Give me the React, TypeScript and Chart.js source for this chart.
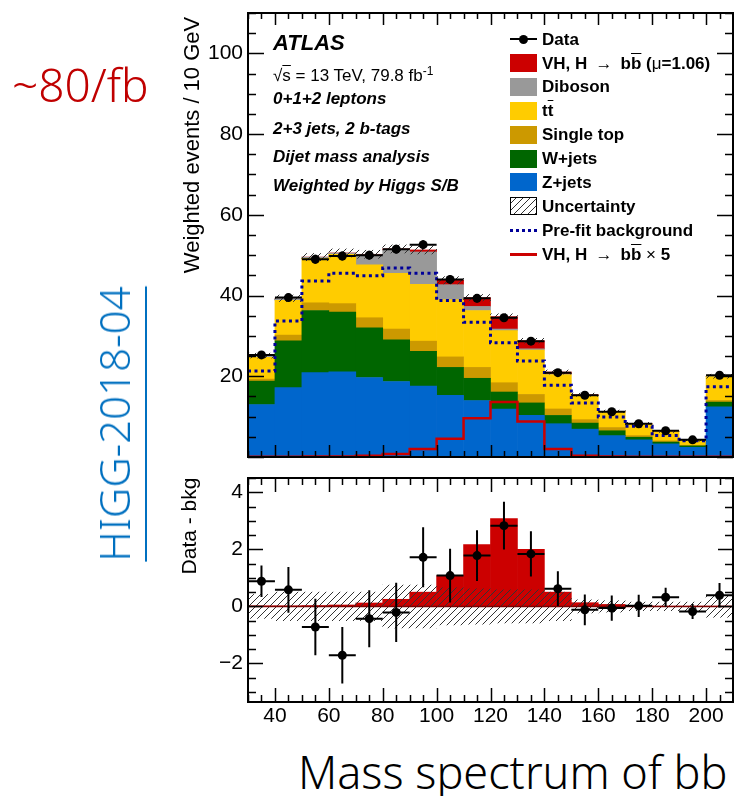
import React, { useEffect, useRef } from "react";
import { Chart, registerables } from "chart.js";
Chart.register(...registerables);

// ---------------- data ----------------
const binEdges = [30, 40, 50, 60, 70, 80, 90, 100, 110, 120, 130, 140, 150, 160, 170, 180, 190, 200, 210];
const binCenters = [35, 45, 55, 65, 75, 85, 95, 105, 115, 125, 135, 145, 155, 165, 175, 185, 195, 205];
const binHalfWidth = 5;

const zJets = [13.0, 17.2, 20.9, 21.1, 19.7, 18.7, 17.6, 15.3, 14.0, 11.9, 10.3, 8.25, 6.9, 5.3, 4.25, 3.25, 2.4, 12.4];
const wJets = [5.8, 11.6, 15.4, 14.8, 12.3, 10.3, 8.6, 6.9, 5.5, 4.2, 3.1, 2.05, 1.5, 1.2, 0.65, 0.45, 0.35, 1.2];
const singleTop = [0.5, 1.4, 1.9, 2.1, 2.5, 2.7, 2.5, 2.6, 2.7, 2.3, 2.1, 1.6, 0.85, 0.8, 0.4, 0.3, 0.15, 0.4];
const ttbar = [5.4, 8.6, 11.0, 12.2, 13.1, 13.8, 14.1, 14.2, 14.1, 12.9, 11.0, 8.5, 5.95, 3.9, 2.9, 2.3, 1.2, 5.9];
const diboson = [0.4, 0.5, 0.3, 0.3, 2.5, 5.8, 8.0, 3.7, 1.0, 0.4, 0.3, 0.15, 0.1, 0.05, 0.05, 0.03, 0.02, 0.1];
const vhSignal = [0.02, 0.02, 0.03, 0.05, 0.12, 0.25, 0.5, 1.08, 2.17, 3.08, 2.0, 0.5, 0.13, 0.07, 0.03, 0.01, 0.01, 0.01];
const dataTop = [25.3, 39.5, 49.0, 49.8, 50.0, 51.5, 52.6, 44.0, 39.3, 34.5, 28.7, 20.9, 15.3, 11.2, 8.25, 6.5, 4.25, 20.25];
const dataTopErr = [0.8, 1.0, 1.1, 1.1, 1.1, 1.1, 1.1, 1.0, 1.0, 0.9, 0.85, 0.75, 0.65, 0.55, 0.5, 0.45, 0.4, 0.75];
const prefitBkg = [21.3, 33.7, 43.6, 45.5, 44.9, 46.8, 45.5, 38.8, 33.4, 28.3, 23.8, 17.8, 13.4, 9.9, 7.6, 5.3, 4.0, 17.4];
const vhTimes5 = [0.05, 0.05, 0.1, 0.15, 0.3, 0.75, 2.0, 4.5, 9.6, 13.6, 8.8, 2.0, 0.33, 0.12, 0.08, 0.05, 0.05, 0.05];
const uncTop = [0.6, 0.8, 0.9, 1.0, 1.0, 1.0, 1.0, 0.9, 0.8, 0.7, 0.6, 0.5, 0.4, 0.3, 0.3, 0.25, 0.2, 0.5];

const diffData = [0.88, 0.58, -0.72, -1.71, -0.43, -0.21, 1.72, 1.08, 1.78, 2.83, 1.84, 0.62, -0.12, -0.06, 0.02, 0.32, -0.18, 0.39];
const diffErr = [0.55, 0.8, 0.99, 0.99, 1.0, 1.04, 1.05, 0.94, 0.89, 0.84, 0.79, 0.61, 0.54, 0.44, 0.39, 0.33, 0.26, 0.43];
const diffSignal = [0.02, 0.02, 0.03, 0.05, 0.12, 0.25, 0.5, 1.08, 2.17, 3.08, 2.0, 0.5, 0.13, 0.07, 0.03, 0.01, 0.01, 0.01];
const diffUnc = [0.42, 0.5, 0.5, 0.5, 0.5, 0.75, 0.75, 0.65, 0.62, 0.58, 0.58, 0.5, 0.23, 0.2, 0.15, 0.15, 0.15, 0.38];

const topYTicks = [20, 40, 60, 80, 100];
const lowYTicks = [-2, 0, 2, 4];
const xTickLabels = [40, 60, 80, 100, 120, 140, 160, 180, 200];

// ---------------- style ----------------
const FONT = "'Liberation Sans', Arial, Helvetica, sans-serif";
const NOTO = "'Noto Sans', 'Noto Sans CJK SC', sans-serif";
const C_VH = "#cc0000";
const C_DB = "#999999";
const C_TT = "#ffcc00";
const C_ST = "#cc9900";
const C_W = "#006600";
const C_Z = "#0066cc";
const C_PRE = "#000099";

function makeHatch(spacing: number) {
  const c = document.createElement("canvas");
  c.width = spacing;
  c.height = spacing;
  const g = c.getContext("2d")!;
  g.strokeStyle = "#333333";
  g.lineWidth = 1;
  g.beginPath();
  g.moveTo(0, spacing);
  g.lineTo(spacing, 0);
  g.moveTo(-spacing / 2, spacing / 2);
  g.lineTo(spacing / 2, -spacing / 2);
  g.moveTo(spacing / 2, spacing * 1.5);
  g.lineTo(spacing * 1.5, spacing / 2);
  g.stroke();
  return g.createPattern(c, "repeat")!;
}

const frameTicks = {
  id: "frameTicks",
  afterDatasetsDraw(chart: any, _args: any, o: any) {
    const { ctx, chartArea: a, scales } = chart;
    const xs = scales.x;
    const ys = scales.y;
    const isMaj = (v: number, m: number) => Math.abs(v / m - Math.round(v / m)) < 1e-6;
    ctx.save();
    ctx.strokeStyle = "#000";
    ctx.lineWidth = 1.5;
    ctx.beginPath();
    for (let v = Math.ceil(xs.min / o.xMinor) * o.xMinor; v <= xs.max + 1e-9; v += o.xMinor) {
      const px = Math.round(xs.getPixelForValue(v)) + 0.5;
      const L = isMaj(v, o.xMajor) ? o.xMajLen : o.xMinLen;
      ctx.moveTo(px, a.bottom);
      ctx.lineTo(px, a.bottom - L);
      ctx.moveTo(px, a.top);
      ctx.lineTo(px, a.top + L);
    }
    const y0 = Math.ceil(ys.min / o.yMinor - 1e-9) * o.yMinor;
    for (let v = y0; v <= ys.max + 1e-9; v += o.yMinor) {
      const py = Math.round(ys.getPixelForValue(v)) + 0.5;
      const L = isMaj(v, o.yMajor) ? o.yMajLen : o.yMinLen;
      ctx.moveTo(a.left, py);
      ctx.lineTo(a.left + L, py);
      ctx.moveTo(a.right, py);
      ctx.lineTo(a.right - L, py);
    }
    ctx.stroke();
    ctx.lineWidth = 2;
    ctx.strokeRect(a.left, a.top, a.right - a.left, a.bottom - a.top);
    ctx.restore();
  },
};

const errorBars = {
  id: "errorBars",
  beforeDatasetDraw(chart: any, args: any) {
    const ds: any = chart.data.datasets[args.index];
    if (!ds.errY) return;
    const { ctx, scales } = chart;
    const xs = scales.x;
    const ys = scales.y;
    ctx.save();
    ctx.strokeStyle = "#000";
    ctx.lineWidth = 2;
    ctx.beginPath();
    ds.data.forEach((p: any, i: number) => {
      const xa = xs.getPixelForValue(p.x - ds.halfW);
      const xb = xs.getPixelForValue(p.x + ds.halfW);
      const xc = xs.getPixelForValue(p.x);
      const y = ys.getPixelForValue(p.y);
      const ya = ys.getPixelForValue(p.y - ds.errY[i]);
      const yb = ys.getPixelForValue(p.y + ds.errY[i]);
      ctx.moveTo(xa, y);
      ctx.lineTo(xb, y);
      ctx.moveTo(xc, ya);
      ctx.lineTo(xc, yb);
    });
    ctx.stroke();
    ctx.restore();
  },
};

const pts = (arr: number[]) => binCenters.map((x, i) => ({ x, y: arr[i] }));
const steps = (arr: number[]) => binEdges.map((x, i) => ({ x, y: arr[Math.min(i, arr.length - 1)] }));
const tickFont = { family: FONT, size: 21 };
const fmt = (v: any) => (v < 0 ? "\u2212" + Math.abs(v) : String(v));

function barDs(label: string, arr: number[], color: string) {
  return {
    type: "bar",
    label,
    data: pts(arr),
    backgroundColor: color,
    borderWidth: 0,
    stack: "bg",
    barPercentage: 1,
    categoryPercentage: 1,
  };
}

function topConfig(hatch: CanvasPattern): any {
  const total = binCenters.map(
    (_, i) => zJets[i] + wJets[i] + singleTop[i] + ttbar[i] + diboson[i] + vhSignal[i]
  );
  return {
    type: "bar",
    data: {
      datasets: [
        {
          type: "line",
          label: "Data",
          data: pts(dataTop),
          showLine: false,
          pointRadius: 4.5,
          pointBackgroundColor: "#000",
          pointBorderWidth: 0,
          stack: "data",
          errY: dataTopErr,
          halfW: binHalfWidth,
        },
        {
          type: "line",
          label: "VH x5",
          data: steps(vhTimes5),
          stepped: "before",
          borderColor: C_VH,
          borderWidth: 2.5,
          pointRadius: 0,
          fill: false,
          stack: "vh5",
        },
        {
          type: "line",
          label: "Pre-fit background",
          data: steps(prefitBkg),
          stepped: "before",
          borderColor: C_PRE,
          borderWidth: 3,
          borderDash: [3, 3.5],
          pointRadius: 0,
          fill: false,
          stack: "prefit",
        },
        {
          type: "bar",
          label: "Uncertainty",
          data: binCenters.map((x, i) => ({ x, y: [total[i] - uncTop[i], total[i] + uncTop[i]] })),
          backgroundColor: hatch,
          borderWidth: 0,
          grouped: false,
          stack: "unc",
          barPercentage: 1,
          categoryPercentage: 1,
        },
        barDs("Z+jets", zJets, C_Z),
        barDs("W+jets", wJets, C_W),
        barDs("Single top", singleTop, C_ST),
        barDs("ttbar", ttbar, C_TT),
        barDs("Diboson", diboson, C_DB),
        barDs("VH", vhSignal, C_VH),
      ],
    },
    options: {
      responsive: false,
      animation: false,
      events: [],
      layout: { padding: { left: 0, right: 1, top: 13, bottom: 13 }, autoPadding: false },
      plugins: {
        legend: { display: false },
        tooltip: { enabled: false },
        frameTicks: { xMajor: 20, xMinor: 5, xMajLen: 12, xMinLen: 6, yMajor: 20, yMinor: 5, yMajLen: 16, yMinLen: 8 },
      },
      scales: {
        x: { type: "linear", min: 30, max: 210, offset: false, display: false },
        y: {
          type: "linear",
          min: 0,
          max: 110,
          stacked: true,
          grid: { display: false, drawTicks: false },
          border: { display: false },
          ticks: { font: tickFont, color: "#000", padding: 5, callback: fmt },
          afterBuildTicks: (s: any) => {
            s.ticks = topYTicks.map((v) => ({ value: v }));
          },
          afterFit: (s: any) => {
            s.width = 248;
            s.paddingTop = 0;
            s.paddingBottom = 0;
          },
        },
      },
    },
    plugins: [frameTicks, errorBars],
  };
}

function lowConfig(hatch: CanvasPattern): any {
  return {
    type: "bar",
    data: {
      datasets: [
        {
          type: "line",
          label: "Data - bkg",
          data: pts(diffData),
          showLine: false,
          pointRadius: 4.5,
          pointBackgroundColor: "#000",
          pointBorderWidth: 0,
          errY: diffErr,
          halfW: binHalfWidth,
        },
        {
          type: "line",
          label: "zero",
          data: [
            { x: binEdges[0], y: 0 },
            { x: binEdges[binEdges.length - 1], y: 0 },
          ],
          borderColor: "#7a0000",
          borderWidth: 1.5,
          pointRadius: 0,
          fill: false,
        },
        {
          type: "bar",
          label: "Uncertainty",
          data: binCenters.map((x, i) => ({ x, y: [-diffUnc[i], diffUnc[i]] })),
          backgroundColor: hatch,
          borderWidth: 0,
          grouped: false,
          barPercentage: 1,
          categoryPercentage: 1,
        },
        {
          type: "bar",
          label: "Signal",
          data: pts(diffSignal),
          backgroundColor: C_VH,
          borderWidth: 0,
          barPercentage: 1,
          categoryPercentage: 1,
        },
      ],
    },
    options: {
      responsive: false,
      animation: false,
      events: [],
      layout: { padding: { left: 0, right: 1, top: 8, bottom: 0 }, autoPadding: false },
      plugins: {
        legend: { display: false },
        tooltip: { enabled: false },
        frameTicks: { xMajor: 20, xMinor: 5, xMajLen: 14, xMinLen: 7, yMajor: 2, yMinor: 0.5, yMajLen: 15, yMinLen: 8 },
      },
      scales: {
        x: {
          type: "linear",
          min: 30,
          max: 210,
          offset: false,
          grid: { display: false, drawTicks: false },
          border: { display: false },
          ticks: { font: tickFont, color: "#000", padding: 2, maxRotation: 0, autoSkip: false },
          afterBuildTicks: (s: any) => {
            s.ticks = xTickLabels.map((v) => ({ value: v }));
          },
          afterFit: (s: any) => {
            s.height = 28;
            s.paddingLeft = 0;
            s.paddingRight = 0;
          },
        },
        y: {
          type: "linear",
          min: -3.35,
          max: 4.5,
          stacked: false,
          grid: { display: false, drawTicks: false },
          border: { display: false },
          ticks: { font: tickFont, color: "#000", padding: 5, callback: fmt },
          afterBuildTicks: (s: any) => {
            s.ticks = lowYTicks.map((v) => ({ value: v }));
          },
          afterFit: (s: any) => {
            s.width = 248;
            s.paddingTop = 0;
            s.paddingBottom = 0;
          },
        },
      },
    },
    plugins: [frameTicks, errorBars],
  };
}

// ---------------- text helpers ----------------
function Txt(props: any) {
  const { x, base, size, family = FONT, weight = 400, italic = false, color = "#000", children } = props;
  const ratio = family === NOTO ? 0.888 : 0.8465;
  return (
    <div
      style={{
        position: "absolute",
        left: x,
        top: base - ratio * size,
        fontSize: size,
        lineHeight: 1,
        fontFamily: family,
        fontWeight: weight,
        fontStyle: italic ? "italic" : "normal",
        color,
        whiteSpace: "nowrap",
      }}
    >
      {children}
    </div>
  );
}

function VTxt(props: any) {
  const { cx, cy, size, family = FONT, color = "#000", weight = 400, extra = {}, children } = props;
  return (
    <div
      style={{
        position: "absolute",
        left: cx,
        top: cy,
        fontSize: size,
        lineHeight: 1,
        fontFamily: family,
        fontWeight: weight,
        color,
        whiteSpace: "nowrap",
        transform: "translate(-50%, -50%) rotate(-90deg)",
        ...extra,
      }}
    >
      {children}
    </div>
  );
}

const OL = (p: any) => <span style={{ textDecoration: "overline" }}>{p.children}</span>;
const N = (p: any) => <span style={{ fontWeight: 400 }}>{p.children}</span>;

const LX = 510;
const LTX = 542;
const LB0 = 45;
const LSTEP = 23.9;

function Box(props: any) {
  const { row, color, hatch } = props;
  const base = LB0 + LSTEP * row;
  const style: any = {
    position: "absolute",
    left: LX,
    top: base - 15,
    width: 27,
    height: 18,
    boxSizing: "border-box",
    background: color,
  };
  if (hatch) {
    style.background = "repeating-linear-gradient(-45deg, #333 0px, #333 1px, #fff 1px, #fff 5px)";
    style.border = "1px solid #000";
  }
  return <div style={style} />;
}

function LegendText(props: any) {
  return (
    <Txt x={LTX} base={LB0 + LSTEP * props.row} size={17} weight={700}>
      {props.children}
    </Txt>
  );
}

export default function App() {
  const topRef = useRef<HTMLCanvasElement>(null);
  const lowRef = useRef<HTMLCanvasElement>(null);

  useEffect(() => {
    const h1 = makeHatch(7);
    const h2 = makeHatch(7);
    const top = new Chart(topRef.current!, topConfig(h1));
    const low = new Chart(lowRef.current!, lowConfig(h2));
    return () => {
      top.destroy();
      low.destroy();
    };
  }, []);

  return (
    <div
      style={{
        position: "absolute",
        left: 0,
        top: 0,
        width: 734,
        height: 796,
        background: "#fff",
        overflow: "hidden",
        fontFamily: FONT,
      }}
    >
      <canvas ref={topRef} width={734} height={470} style={{ position: "absolute", left: 0, top: 0, width: 734, height: 470 }} />
      <canvas ref={lowRef} width={734} height={260} style={{ position: "absolute", left: 0, top: 470, width: 734, height: 260 }} />

      {/* side annotations */}
      <Txt x={12} base={102} size={46} family={NOTO} weight={300} color="#c00000">
        ~80/fb
      </Txt>
      <VTxt
        cx={114}
        cy={424}
        size={42}
        family={NOTO}
        weight={300}
        color="#0070c0"
        extra={{ textDecoration: "underline", textUnderlineOffset: "15px", textDecorationThickness: "2px" }}
      >
        HIGG-2018-04
      </VTxt>
      <Txt x={298} base={789} size={45} family={NOTO} weight={300} color="#000">
        Mass spectrum of bb
      </Txt>

      {/* axis titles */}
      <VTxt cx={191.5} cy={145} size={22}>
        Weighted events / 10 GeV
      </VTxt>
      <VTxt cx={187.5} cy={525.5} size={21}>
        Data - bkg
      </VTxt>

      {/* ATLAS labels */}
      <Txt x={273} base={51} size={22} weight={700} italic>
        ATLAS
      </Txt>
      <Txt x={273} base={79} size={17}>
        √<span style={{ textDecoration: "overline" }}>s</span> = 13 TeV, 79.8 fb
        <sup style={{ fontSize: 12, verticalAlign: 6 }}>-1</sup>
      </Txt>
      <Txt x={273} base={104.5} size={17} weight={700} italic>
        0+1+2 leptons
      </Txt>
      <Txt x={273} base={134} size={17} weight={700} italic>
        2+3 jets, 2 b-tags
      </Txt>
      <Txt x={273} base={162.7} size={17} weight={700} italic>
        Dijet mass analysis
      </Txt>
      <Txt x={273} base={191.7} size={17} weight={700} italic>
        Weighted by Higgs S/B
      </Txt>

      {/* legend */}
      <div style={{ position: "absolute", left: LX, top: LB0 - 7, width: 27, height: 2, background: "#000" }} />
      <div
        style={{ position: "absolute", left: LX + 9, top: LB0 - 10.5, width: 9, height: 9, borderRadius: "50%", background: "#000" }}
      />
      <LegendText row={0}>Data</LegendText>
      <Box row={1} color={C_VH} />
      <LegendText row={1}>
        VH, H <N>{"\u2009\u2192\u2009"}</N> b<OL>b</OL> (<N>μ</N>=1.06)
      </LegendText>
      <Box row={2} color={C_DB} />
      <LegendText row={2}>Diboson</LegendText>
      <Box row={3} color={C_TT} />
      <LegendText row={3}>
        t<OL>t</OL>
      </LegendText>
      <Box row={4} color={C_ST} />
      <LegendText row={4}>Single top</LegendText>
      <Box row={5} color={C_W} />
      <LegendText row={5}>W+jets</LegendText>
      <Box row={6} color={C_Z} />
      <LegendText row={6}>Z+jets</LegendText>
      <Box row={7} hatch />
      <LegendText row={7}>Uncertainty</LegendText>
      <div
        style={{
          position: "absolute",
          left: LX,
          top: LB0 + LSTEP * 8 - 7.5,
          width: 27,
          height: 0,
          borderTop: "3px dotted " + C_PRE,
        }}
      />
      <LegendText row={8}>Pre-fit background</LegendText>
      <div
        style={{ position: "absolute", left: LX, top: LB0 + LSTEP * 9 - 7.5, width: 27, height: 3, background: C_VH }}
      />
      <LegendText row={9}>
        VH, H <N>{"\u2009\u2192\u2009"}</N> b<OL>b</OL> <N>×</N> 5
      </LegendText>
    </div>
  );
}
